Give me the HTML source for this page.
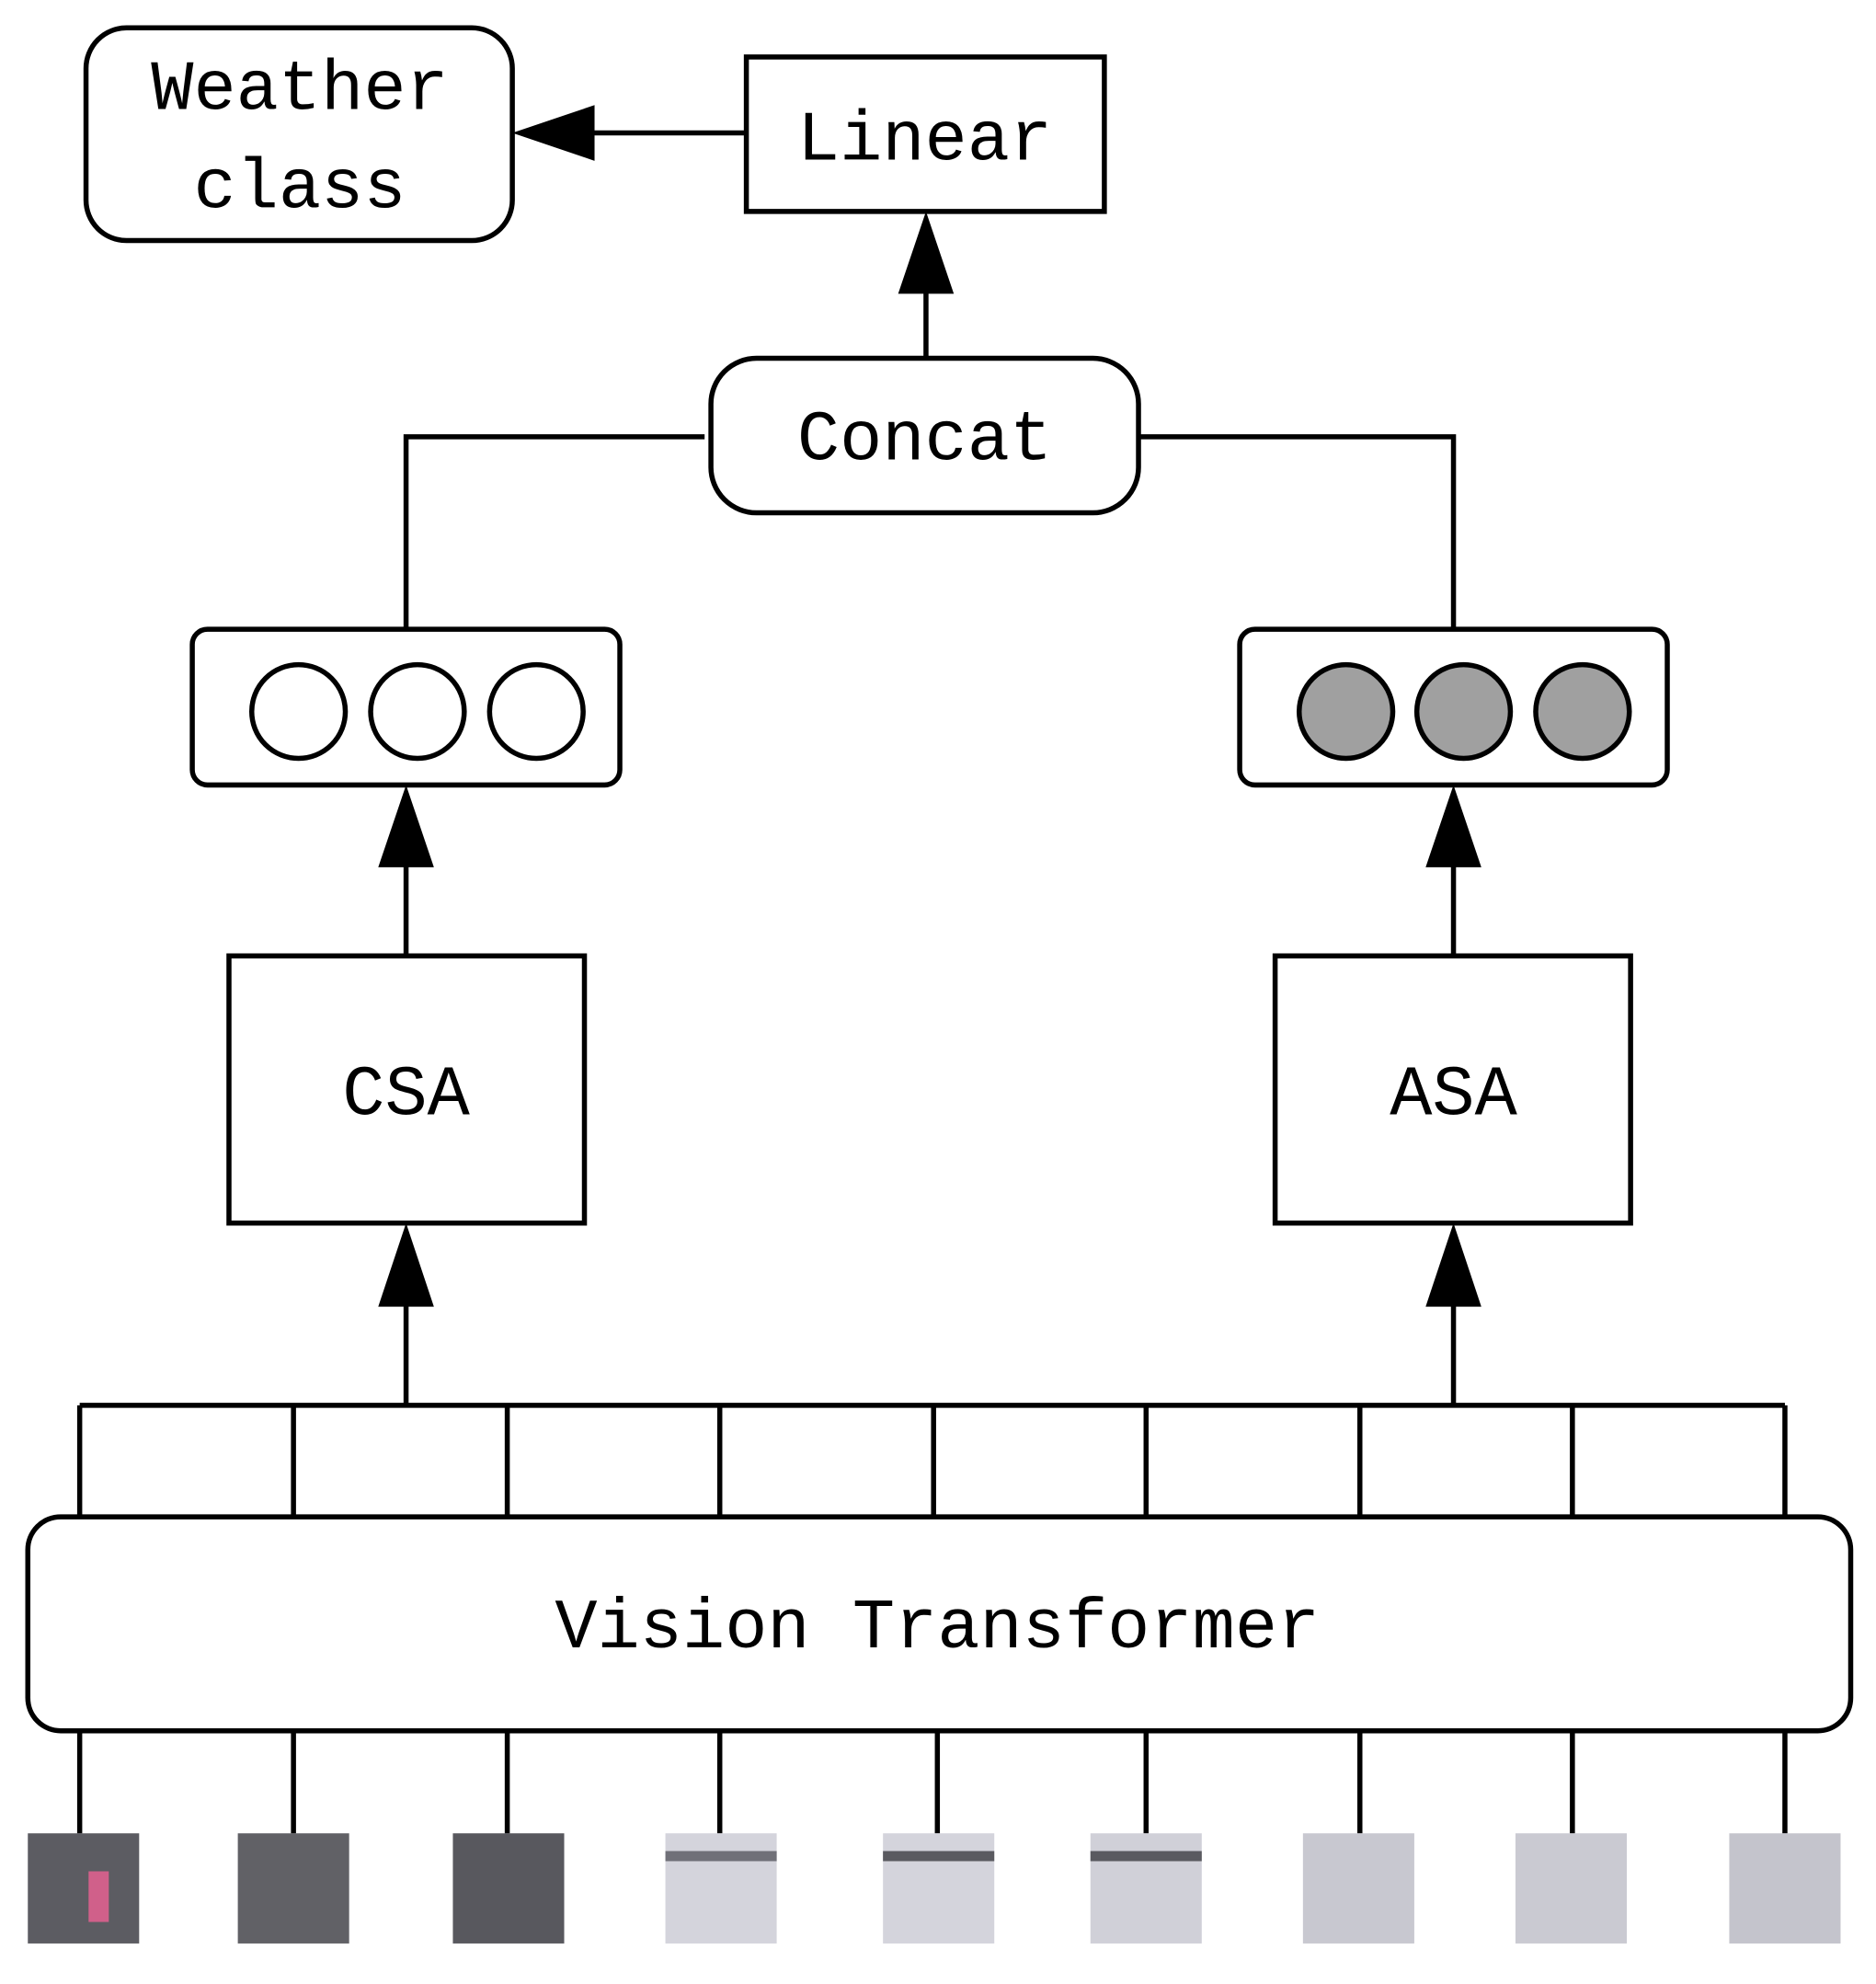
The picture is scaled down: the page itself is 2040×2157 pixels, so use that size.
<!DOCTYPE html>
<html><head><meta charset="utf-8"><style>
html,body{margin:0;padding:0;background:#fff;}
svg{display:block;}
text{font-family:"Liberation Mono","DejaVu Sans Mono",monospace;fill:#000;}
</style></head><body>
<svg width="2040" height="2157" viewBox="0 0 1483 1567" preserveAspectRatio="none" xmlns="http://www.w3.org/2000/svg">
<g fill="none" stroke="#000" stroke-width="4">
<rect x="68" y="22" width="337" height="168" rx="32"/>
<rect x="590" y="45" width="283" height="122"/>
<rect x="562" y="283" width="338" height="122" rx="36"/>
<rect x="152" y="497" width="338" height="123" rx="12"/>
<rect x="980" y="497" width="338" height="123" rx="12"/>
<rect x="181" y="755" width="281" height="211"/>
<rect x="1008" y="755" width="281" height="211"/>
<rect x="22" y="1198" width="1441" height="169" rx="26"/>
<path d="M590 105H468M732 283V230M557 345H321V497M900 345H1149V497M321 755V683M1149 755V683M321 1110V1030M1149 1110V1030M63 1110H1411"/>
<path d="M63 1110V1198M232 1110V1198M401 1110V1198M569 1110V1198M738 1110V1198M906 1110V1198M1075 1110V1198M1243 1110V1198M1411 1110V1198"/>
<path d="M63 1367V1448M232 1367V1448M401 1367V1448M569 1367V1448M741 1367V1448M906 1367V1448M1075 1367V1448M1243 1367V1448M1411 1367V1448"/>
<circle cx="236" cy="562" r="37" fill="#fff"/><circle cx="330" cy="562" r="37" fill="#fff"/><circle cx="424" cy="562" r="37" fill="#fff"/>
<circle cx="1064" cy="562" r="37" fill="#a0a0a0"/><circle cx="1157" cy="562" r="37" fill="#a0a0a0"/><circle cx="1251" cy="562" r="37" fill="#a0a0a0"/>
</g>
<g fill="#000">
<polygon points="405,105 470,83 470,127"/>
<polygon points="732,167 710,232 754,232"/>
<polygon points="321,620 299,685 343,685"/>
<polygon points="1149,620 1127,685 1171,685"/>
<polygon points="321,966 299,1032 343,1032"/>
<polygon points="1149,966 1127,1032 1171,1032"/>
</g>
<g font-size="56" text-anchor="middle">
<text x="237" y="86">Weather</text>
<text x="237" y="164">class</text>
<text x="731" y="126">Linear</text>
<text x="731" y="363">Concat</text>
<text x="321" y="880">CSA</text>
<text x="1149" y="880">ASA</text>
<text x="741" y="1301">Vision Transformer</text>
</g>
<g>
<rect x="22" y="1448" width="88" height="87" fill="#5c5c62"/>
<rect x="70" y="1478" width="16" height="40" fill="#d0608a"/>
<rect x="188" y="1448" width="88" height="87" fill="#616166"/>
<rect x="358" y="1448" width="88" height="87" fill="#58585e"/>
<rect x="526" y="1448" width="88" height="87" fill="#d4d4dc"/>
<rect x="526" y="1462" width="88" height="8" fill="#707078"/>
<rect x="698" y="1448" width="88" height="87" fill="#d4d4dc"/>
<rect x="698" y="1462" width="88" height="8" fill="#5a5a60"/>
<rect x="862" y="1448" width="88" height="87" fill="#d0d0d8"/>
<rect x="862" y="1462" width="88" height="8" fill="#5a5a60"/>
<rect x="1030" y="1448" width="88" height="87" fill="#c8c8d0"/>
<rect x="1198" y="1448" width="88" height="87" fill="#cacad2"/>
<rect x="1367" y="1448" width="88" height="87" fill="#c4c4cc"/>
</g>
</svg>
</body></html>
